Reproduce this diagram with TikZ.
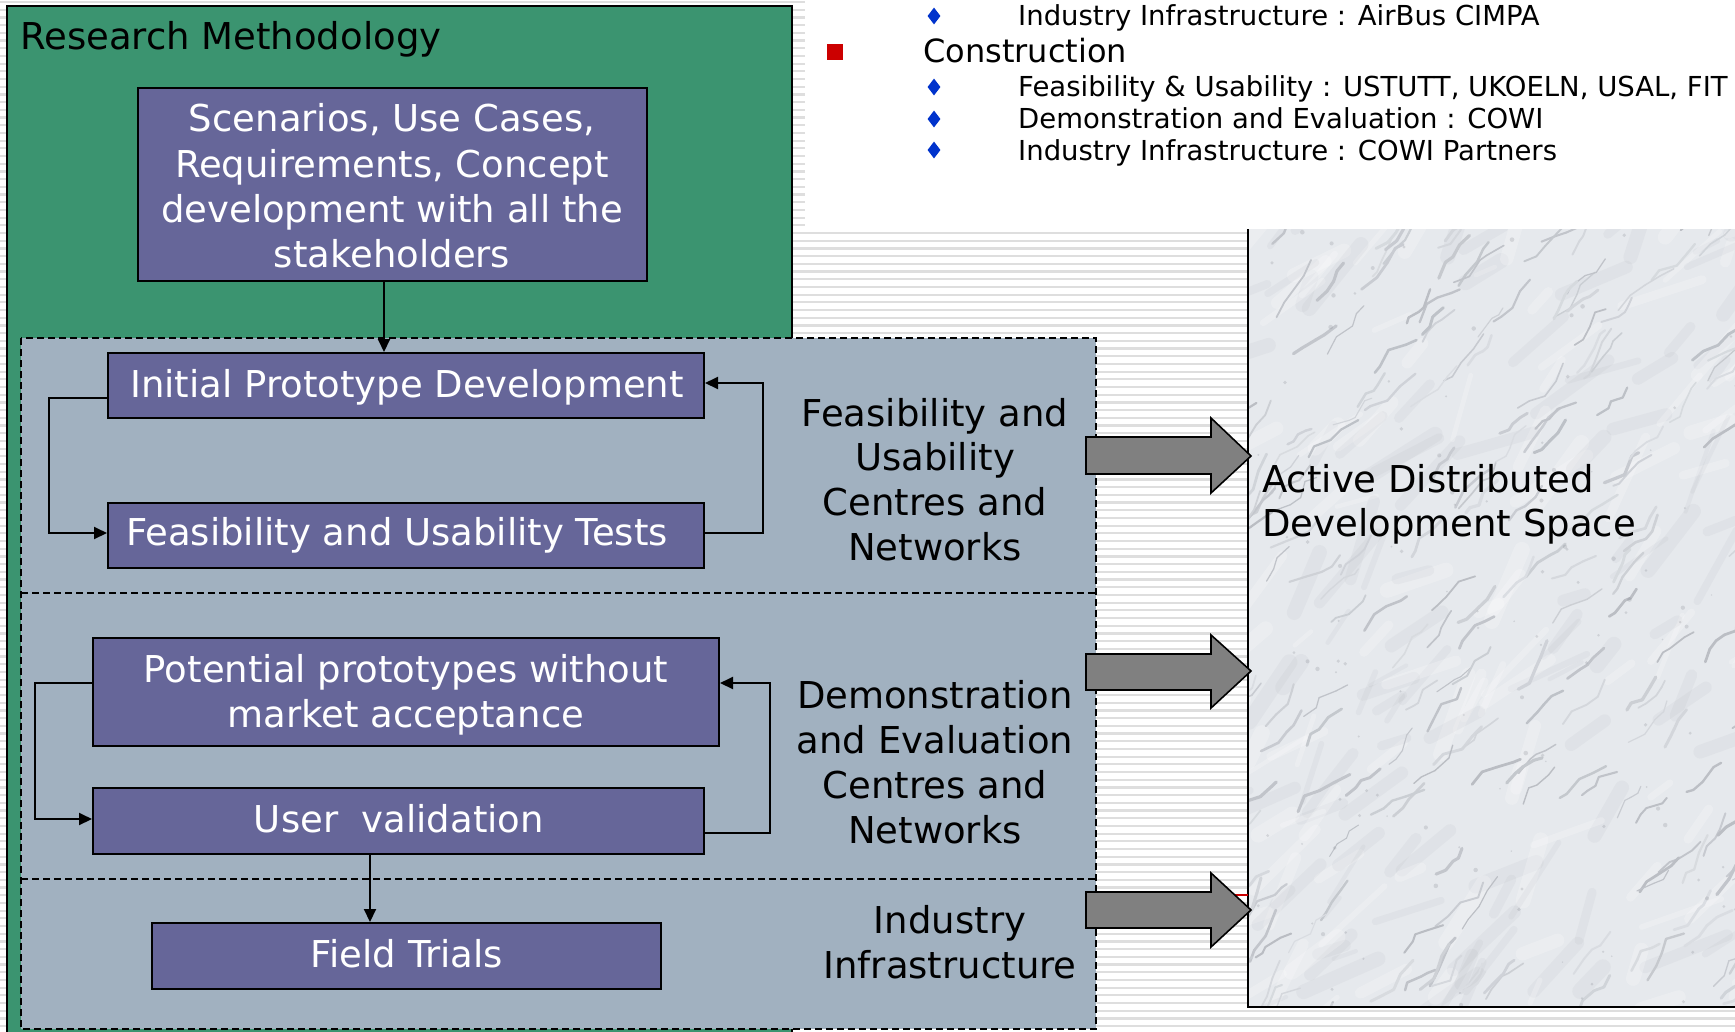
\documentclass[tikz,border=0pt]{standalone}
\usepackage{fontspec}
\setmainfont{DejaVu Sans}
\usetikzlibrary{arrows.meta,shapes.geometric}
\definecolor{rmgreen}{RGB}{59,148,112}
\definecolor{zonegray}{RGB}{161,177,192}
\definecolor{boxpurple}{RGB}{102,102,153}
\definecolor{arrowgray}{RGB}{128,128,128}
\definecolor{bulletblue}{RGB}{0,51,204}
\definecolor{bulletred}{RGB}{204,0,0}
\definecolor{stripecol}{RGB}{222,222,222}
\definecolor{marblebase}{RGB}{230,233,237}
\definecolor{veincol}{RGB}{110,114,124}
\begin{document}
\begin{tikzpicture}[x=1pt,y=-1pt,
  stepbox/.style={draw=black, line width=2pt, fill=boxpurple, inner sep=0pt},
  boxtext/.style={text=white, anchor=base, inner sep=0pt, font=\fontsize{37}{45}\selectfont},
  labeltext/.style={text=black, anchor=base, inner sep=0pt, font=\fontsize{37}{45}\selectfont},
  bullettext/.style={text=black, anchor=base west, inner sep=0pt, font=\fontsize{27.5}{33}\selectfont},
  bluebullet/.style={diamond, fill=bulletblue, minimum width=13pt, minimum height=17pt, inner sep=0pt},
  link/.style={line width=2pt, -{Triangle[length=13pt,width=12pt]}},
  zoneline/.style={draw=black, line width=1.6pt, dash pattern=on 7pt off 4pt},
  bigarrow/.style={draw=black, line width=1.6pt, fill=arrowgray, line join=miter}
]
\useasboundingbox (0,0) rectangle (1735,1031);
% lined background
\fill[white] (0,0) rectangle (1735,1031);
\foreach \k in {0,...,134}{
  \draw[stripecol, line width=2.2pt] (0,{\k*7.7+2}) -- (1735,{\k*7.7+2});
}
\fill[white] (805,0) rectangle (1735,230);

% research methodology frame
\draw[fill=rmgreen, line width=2pt] (7,6) rectangle (792,1045);
\node[labeltext, anchor=base west] (rmtitle) at (20,49) {Research Methodology};

% grey zones
\fill[zonegray] (21,338) rectangle (1096,1029);
\draw[zoneline] (21,338) rectangle (1096,1029);
\draw[zoneline] (21,593) -- (1096,593);
\draw[zoneline] (21,879) -- (1096,879);

% boxes
\node[stepbox, minimum width=509pt, minimum height=193pt] (scen) at (392.5,184.5) {};
\node[stepbox, minimum width=596pt, minimum height=65pt] (ipd) at (406,385.5) {};
\node[stepbox, minimum width=596pt, minimum height=65pt] (fut) at (406,535.5) {};
\node[stepbox, minimum width=626pt, minimum height=108pt] (pp) at (406,692) {};
\node[stepbox, minimum width=611pt, minimum height=66pt] (uv) at (398.5,821) {};
\node[stepbox, minimum width=509pt, minimum height=66pt] (ft) at (406.5,956) {};

% box texts
\node[boxtext] (scen1) at (392,131) {Scenarios, Use Cases,};
\node[boxtext] (scen2) at (392,177) {Requirements, Concept};
\node[boxtext] (scen3) at (392,222) {development with all the};
\node[boxtext] (scen4) at (392,267) {stakeholders};
\node[boxtext] (ipdt) at (407,397) {Initial Prototype Development};
\node[boxtext] (futt) at (397,545) {Feasibility and Usability Tests};
\node[boxtext] (pp1) at (406,682) {Potential prototypes without};
\node[boxtext] (pp2) at (406,727) {market acceptance};
\node[boxtext] (uvt) at (399,832) {User\ \ validation};
\node[boxtext] (ftt) at (407,967) {Field Trials};

% connectors
\coordinate (cx1) at (384,0);
\coordinate (cx2) at (370,0);
\draw[link] (scen.south -| cx1) -- (ipd.north -| cx1);
\draw[link] ([yshift=-12.5pt]ipd.west) -- ++(-58,0) |- ([yshift=2.5pt]fut.west);
\draw[link] ([yshift=2.5pt]fut.east) -- ++(58,0) |- ([yshift=2.5pt]ipd.east);
\draw[link] ([yshift=9pt]pp.west) -- ++(-57,0) |- ([yshift=2pt]uv.west);
\draw[link] ([yshift=-12pt]uv.east) -- ++(65,0) |- ([yshift=9pt]pp.east);
\draw[link] (uv.south -| cx2) -- (ft.north -| cx2);

% zone labels
\node[labeltext] (fz1) at (935,426) {Feasibility and};
\node[labeltext] (fz2) at (935,470) {Usability};
\node[labeltext] (fz3) at (935,515) {Centres and};
\node[labeltext] (fz4) at (935,560) {Networks};
\node[labeltext] (dz1) at (935,708) {Demonstration};
\node[labeltext] (dz2) at (935,753) {and Evaluation};
\node[labeltext] (dz3) at (935,798) {Centres and};
\node[labeltext] (dz4) at (935,843) {Networks};
\node[labeltext] (iz1) at (950,933) {Industry};
\node[labeltext] (iz2) at (950,978) {Infrastructure};

% marble development space
\begin{scope}
  \clip (1248,229) rectangle (1735,1007);
  \fill[marblebase] (1248,229) rectangle (1735,1007);
  \pgfmathsetseed{4242}
  % soft broad mottling
  \foreach \i in {1,...,220}{
    \pgfmathsetmacro{\xa}{1200+rnd*580}
    \pgfmathsetmacro{\ya}{230+rnd*820}
    \pgfmathsetmacro{\len}{20+rnd*70}
    \pgfmathsetmacro{\wd}{4+rnd*12}
    \pgfmathsetmacro{\ang}{45+rand*30}
    \pgfmathtruncatemacro{\pc}{rnd*100}
    \pgfmathsetmacro{\xd}{\xa+\len*cos(\ang)}
    \pgfmathsetmacro{\yd}{\ya-\len*sin(\ang)}
    \ifnum\pc<50
      \draw[white, line width=\wd pt, opacity=0.22, line cap=round] (\xa,\ya) -- (\xd,\yd);
    \else
      \draw[veincol, line width=\wd pt, opacity=0.05, line cap=round] (\xa,\ya) -- (\xd,\yd);
    \fi
  }
  % soft wandering veins
  \foreach \i in {1,...,200}{
    \pgfmathsetmacro{\xa}{1210+rnd*560}
    \pgfmathsetmacro{\ya}{230+rnd*820}
    \pgfmathtruncatemacro{\pc}{10+rnd*28}
    \pgfmathsetmacro{\wd}{1+rnd*2.2}
    \xdef\cx{\xa}\xdef\cy{\ya}
    \xdef\vc{\pc}\xdef\vw{\wd}
    \foreach \j in {1,...,4}{
      \pgfmathsetmacro{\ang}{45+rand*30}
      \pgfmathsetmacro{\sl}{6+rnd*14}
      \pgfmathsetmacro{\nx}{\cx+\sl*cos(\ang)}
      \pgfmathsetmacro{\ny}{\cy-\sl*sin(\ang)}
      \draw[color=veincol!\vc!marblebase, line width=\vw pt, line cap=round, line join=round] (\cx,\cy) -- (\nx,\ny);
      \xdef\cx{\nx}\xdef\cy{\ny}
    }
  }
  % faint specks
  \foreach \i in {1,...,120}{
    \pgfmathsetmacro{\xa}{1250+rnd*490}
    \pgfmathsetmacro{\ya}{230+rnd*780}
    \pgfmathsetmacro{\rr}{0.8+rnd*1.5}
    \fill[veincol, opacity=0.2] (\xa,\ya) circle (\rr);
  }
\end{scope}
\draw[line width=2pt] (1248,229) -- (1248,1007) -- (1740,1007);
\node[labeltext, anchor=base west] (ads1) at (1262,492) {Active Distributed};
\node[labeltext, anchor=base west] (ads2) at (1262,536) {Development Space};

% small red connector remnant
\draw[bulletred, line width=1.2pt] (1234,895) -- (1248,895);

% block arrows
\draw[bigarrow] (1086,437) -- (1211,437) -- (1211,418) -- (1251,456) -- (1211,493) -- (1211,474) -- (1086,474) -- cycle;
\draw[bigarrow] (1086,654) -- (1211,654) -- (1211,635) -- (1251,671) -- (1211,708) -- (1211,690) -- (1086,690) -- cycle;
\draw[bigarrow] (1086,892) -- (1211,892) -- (1211,873) -- (1251,910) -- (1211,947) -- (1211,928) -- (1086,928) -- cycle;

% bullet list
\node[bluebullet] (b1) at (934,16) {};
\node[bullettext] (b1t) at (1018,25) {Industry Infrastructure : AirBus CIMPA};
\node[fill=bulletred, minimum size=16pt, inner sep=0pt] (sq) at (835,51.5) {};
\node[text=black, anchor=base west, inner sep=0pt, font=\fontsize{32}{38}\selectfont] (cons) at (923,62) {Construction};
\node[bluebullet] (b2) at (934,87) {};
\node[bullettext] (b2t) at (1018,96) {Feasibility \& Usability : USTUTT, UKOELN, USAL, FIT};
\node[bluebullet] (b3) at (934,119) {};
\node[bullettext] (b3t) at (1018,128) {Demonstration and Evaluation : COWI};
\node[bluebullet] (b4) at (934,150) {};
\node[bullettext] (b4t) at (1018,160) {Industry Infrastructure : COWI Partners};
\end{tikzpicture}
\end{document}
